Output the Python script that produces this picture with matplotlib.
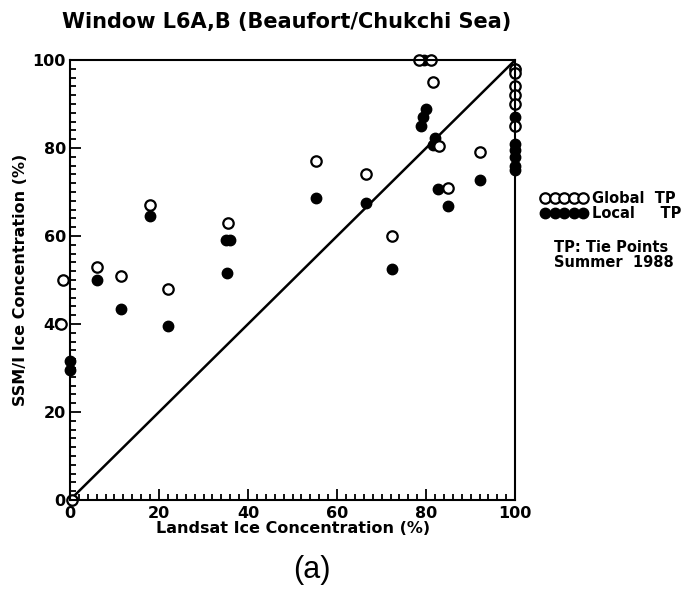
import matplotlib
matplotlib.use('Agg')
from matplotlib import pyplot as plt
from matplotlib.lines import Line2D
from matplotlib.ticker import MultipleLocator

# Landsat vs SSM/I ice concentration, window L6A,B
global_x = [-1.5, -2, 0.5, 6, 11.5, 18, 22, 35.5, 55.3, 66.5, 72.3, 78.5, 81,
            81.5, 82.8, 84.8, 92, 100, 100, 100, 100, 100, 100]
global_y = [50, 40, 0, 53, 51, 67, 48, 63, 77, 74, 60, 100, 100,
            95, 80.5, 71, 79, 98, 97, 94, 92, 90, 85]

local_x = [0, 0, 6, 11.5, 18, 22, 35, 36, 35.2, 55.3, 66.5, 72.3, 79.5, 80,
           79.4, 78.8, 82, 81.6, 82.6, 84.8, 92, 100, 100, 100, 100, 100, 100, 100]
local_y = [31.5, 29.5, 50, 43.5, 64.5, 39.5, 59, 59, 51.5, 68.7, 67.6, 52.4, 100, 88.8,
           87, 85, 82.2, 80.7, 70.8, 66.8, 72.7, 98, 87, 81, 79.5, 78, 76, 75]

ticks = [0, 20, 40, 60, 80, 100]

fig = plt.figure(figsize=(6.86, 5.92), dpi=100)
ax = fig.add_axes([0.102, 0.1554, 0.649, 0.7432])

# 1:1 line
ax.plot([0, 100], [0, 100], c='black', lw=1.8)

ax.plot(local_x, local_y, 'o', ms=7.5, mfc='black', mec='black', clip_on=False)
ax.plot(global_x, global_y, 'o', ms=7.5, mfc='white', mec='black', mew=1.6,
        clip_on=False)

ax.set_xlim(0, 100)
ax.set_ylim(0, 100)
ax.set_xticks(ticks)
ax.set_yticks(ticks)
ax.xaxis.set_minor_locator(MultipleLocator(2))
ax.yaxis.set_minor_locator(MultipleLocator(2))
ax.tick_params(which='both', direction='in', top=False, right=False,
               width=1.3, labelsize=11.5)
ax.tick_params(which='major', length=8)
ax.tick_params(which='minor', length=4)
ax.tick_params(axis='x', which='major', pad=4)
ax.tick_params(axis='y', which='major', pad=3)
for lab in ax.get_xticklabels() + ax.get_yticklabels():
    lab.set_fontweight('bold')
for s in ax.spines.values():
    s.set_linewidth(1.5)

ax.set_xlabel('Landsat Ice Concentration (%)', fontsize=11.5, fontweight='bold',
              labelpad=0)
ax.set_ylabel('SSM/I Ice Concentration (%)', fontsize=11.5, fontweight='bold',
              labelpad=3)
fig.text(0.418, 0.962, 'Window L6A,B (Beaufort/Chukchi Sea)', ha='center',
         va='center', fontsize=15, fontweight='bold')
fig.text(0.455, 0.037, '(a)', ha='center', va='center', fontsize=22,
         family='Liberation Sans')

# legend
handles = [Line2D([], [], ls='none', marker='o', ms=7.5, mfc='white', mec='black', mew=1.6),
           Line2D([], [], ls='none', marker='o', ms=7.5, mfc='black', mec='black')]
leg = fig.legend(handles, ['Global  TP', 'Local     TP'], loc='upper left',
                 bbox_to_anchor=(0.778, 0.69), numpoints=5, handlelength=3.2,
                 handletextpad=0.3, labelspacing=0.02, frameon=False,
                 prop={'size': 10.5, 'weight': 'bold'}, borderpad=0)
fig.text(0.807, 0.594, 'TP: Tie Points\nSummer  1988', ha='left', va='top',
         fontsize=10.5, fontweight='bold', linespacing=1.0)

plt.savefig('out.png', dpi=100)
